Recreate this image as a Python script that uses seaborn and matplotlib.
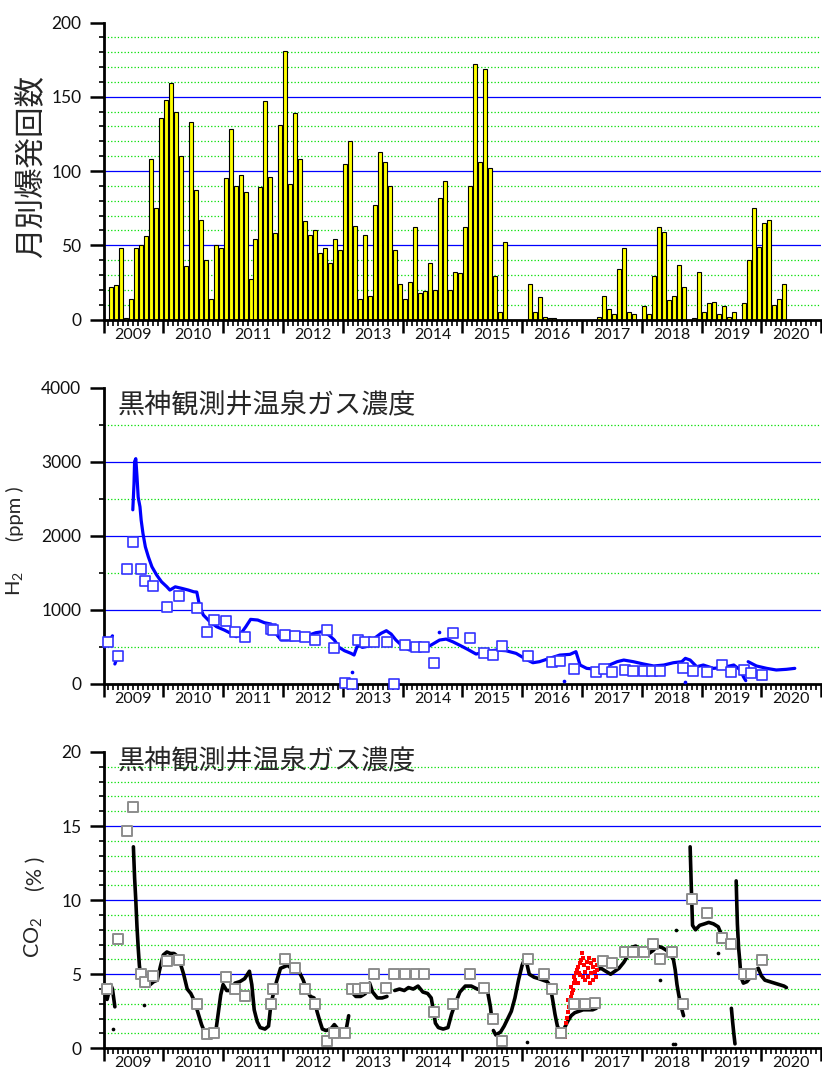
import numpy as np
import pandas as pd
import matplotlib
matplotlib.use("Agg")
import matplotlib.pyplot as plt
from matplotlib.ticker import FixedLocator, FuncFormatter, MultipleLocator, NullFormatter
import seaborn as sns

sns.set_style("ticks")
plt.rcParams["font.family"] = ["Lato", "Noto Sans CJK JP", "DejaVu Sans"]
plt.rcParams["mathtext.fontset"] = "custom"
plt.rcParams["mathtext.rm"] = "Lato"
plt.rcParams["mathtext.it"] = "Lato:italic"
plt.rcParams["lines.scale_dashes"] = False

NAN = np.nan
CJK = ["Noto Sans CJK JP", "DejaVu Sans"]

# ---------------------------------------------------------------- data
# monthly explosion counts (Jan ... Dec)
explosions_2009 = [0, 22, 23, 48, 1, 14, 48, 50, 56, 108, 75, 136]
explosions_2010 = [148, 159, 140, 110, 36, 133, 87, 67, 40, 14, 50, 48]
explosions_2011 = [95, 128, 90, 97, 86, 27, 54, 89, 147, 96, 58, 131]
explosions_2012 = [181, 91, 139, 108, 66, 57, 60, 45, 48, 38, 54, 47]
explosions_2013 = [105, 120, 63, 14, 57, 16, 77, 113, 106, 90, 47, 24]
explosions_2014 = [14, 25, 62, 18, 19, 38, 20, 82, 93, 20, 32, 31]
explosions_2015 = [62, 90, 172, 106, 169, 102, 29, 5, 52, 0, 0, 0]
explosions_2016 = [0, 24, 5, 15, 2, 1, 1, 0, 0, 0, 0, 0]
explosions_2017 = [0, 0, 0, 2, 16, 7, 4, 34, 48, 5, 4, 0]
explosions_2018 = [9, 4, 29, 62, 59, 13, 16, 37, 22, 0, 1, 32]
explosions_2019 = [5, 11, 12, 4, 9, 2, 5, 0, 11, 40, 75, 49]
explosions_2020 = [65, 67, 10, 14, 24]

# H2 (ppm), continuous record; NaN separates gaps in the record
h2_time = [2009.02, 2009.08, 2009.15, NAN,
           2009.19, 2009.24, NAN,
           2009.49, 2009.51, 2009.52, 2009.54, 2009.56, 2009.58, 2009.61, 2009.63,
           2009.66, 2009.70, 2009.75, 2009.81, 2009.89, 2009.97, 2010.06, 2010.11,
           2010.20, 2010.31, 2010.42, 2010.51, 2010.56, 2010.61, 2010.67, 2010.78,
           2010.89, 2011.02, 2011.13, 2011.22, 2011.30, 2011.38, 2011.46, 2011.58,
           2011.69, 2011.80, 2011.88, 2011.97, 2012.08, 2012.22, 2012.39, 2012.55,
           2012.66, 2012.77, 2012.86, 2012.94, 2013.03, 2013.14, 2013.19, 2013.25,
           2013.33, 2013.44, 2013.53, 2013.64, 2013.73, 2013.81, 2013.89, 2014.01,
           2014.12, 2014.23, 2014.34, 2014.45, 2014.62, 2014.73, 2014.84, 2014.95,
           2015.09, 2015.23, 2015.40, 2015.57, 2015.73, 2015.90, 2016.07, 2016.18,
           2016.29, 2016.46, 2016.63, 2016.80, 2016.90, 2016.97, 2017.08, 2017.25,
           2017.42, 2017.59, 2017.70, 2017.86, 2018.03, 2018.20, 2018.37, 2018.53,
           2018.67, 2018.73, 2018.81, 2018.92, 2019.03, 2019.20, 2019.37, 2019.54,
           2019.65, 2019.70, 2019.74, NAN,
           2019.78, 2019.92, 2020.09, 2020.25, 2020.42, 2020.56]
h2_ppm = [500, 560, 650, NAN,
          270, 380, NAN,
          2350, 2700, 3000, 3040, 2800, 2520, 2390, 2210,
          2030, 1850, 1716, 1581, 1469, 1379, 1311, 1267,
          1311, 1290, 1267, 1244, 1240, 1042, 930, 840,
          773, 728, 683, 638, 683, 773, 872, 863,
          827, 809, 683, 593, 593, 600, 647, 692,
          705, 660, 593, 494, 449, 413, 391, 526,
          494, 512, 616, 683, 719, 674, 593, 503,
          458, 481, 481, 512, 593, 606, 570, 526,
          467, 404, 436, 458, 449, 413, 332, 287,
          301, 346, 390, 400, 436, 256, 211, 198,
          243, 301, 323, 301, 270, 243, 256, 287,
          301, 346, 323, 233, 256, 211, 225, 256,
          189, 99, 45, NAN,
          301, 243, 211, 189, 198, 211]
h2_stray_time = [2013.15, 2014.61, 2016.70, 2018.72]
h2_stray_ppm = [157, 700, 40, 31]

# H2 (ppm), periodic sampling
h2_sample_time = [2009.07, 2009.25, 2009.40, 2009.50, 2009.63, 2009.69, 2009.83,
                  2010.06, 2010.26, 2010.56, 2010.73, 2010.85,
                  2011.05, 2011.20, 2011.37, 2011.80, 2011.84,
                  2012.04, 2012.20, 2012.37, 2012.53, 2012.73, 2012.85,
                  2013.04, 2013.16, 2013.26, 2013.37, 2013.53, 2013.74, 2013.86,
                  2014.05, 2014.22, 2014.36, 2014.53, 2014.85,
                  2015.13, 2015.37, 2015.51, 2015.66,
                  2016.10, 2016.50, 2016.63, 2016.86,
                  2017.23, 2017.37, 2017.51, 2017.72, 2017.86,
                  2018.04, 2018.18, 2018.31, 2018.69, 2018.85,
                  2019.09, 2019.34, 2019.50, 2019.71, 2019.83,
                  2020.01]
h2_sample_ppm = [570, 380, 1546, 1915, 1551, 1393, 1326,
                 1034, 1182, 1025, 701, 858,
                 849, 701, 638, 737, 733,
                 656, 645, 629, 593, 728, 492,
                 15, 0, 593, 561, 562, 561, 5,
                 526, 499, 494, 287, 683,
                 616, 413, 395, 512,
                 373, 301, 314, 198,
                 166, 198, 166, 189, 180,
                 180, 175, 171, 216, 171,
                 162, 252, 166, 189, 144,
                 117]

# CO2 (%), continuous record; NaN separates gaps in the record
co2_time = [2009.00, 2009.03, 2009.06, 2009.09, 2009.12, 2009.15, 2009.17, 2009.19, NAN,
            2009.50, 2009.52, 2009.54, 2009.56, 2009.58, 2009.60, 2009.62, 2009.66,
            2009.72, 2009.78, 2009.84, 2009.90, 2009.95, 2010.00, 2010.06, 2010.12,
            2010.18, 2010.24, 2010.28, 2010.34, 2010.40, 2010.46, 2010.52, 2010.58,
            2010.64, 2010.68, 2010.78, 2010.88, 2010.92, 2010.96, 2011.00, 2011.06,
            2011.14, 2011.20, 2011.28, 2011.36, 2011.44, 2011.48, 2011.52, 2011.57,
            2011.62, 2011.70, 2011.76, 2011.80, 2011.86, 2011.90, 2011.96, 2012.02,
            2012.08, 2012.14, 2012.20, 2012.28, 2012.34, 2012.40, 2012.46, 2012.52,
            2012.57, 2012.62, 2012.66, 2012.72, 2012.80, 2012.86, 2012.92, 2013.00,
            2013.06, 2013.10, NAN,
            2013.15, 2013.22, 2013.30, 2013.38, 2013.45, 2013.50, 2013.58, 2013.66,
            2013.74, NAN,
            2013.87, 2013.95, 2014.03, 2014.10, 2014.18, 2014.26, 2014.34, 2014.42,
            2014.48, 2014.52, 2014.55, 2014.60, 2014.68, 2014.76, 2014.82, 2014.88,
            2014.96, 2015.05, 2015.15, 2015.25, 2015.35, 2015.42, 2015.47, 2015.49, NAN,
            2015.52, 2015.56, 2015.60, 2015.64, 2015.70, 2015.76, 2015.82, 2015.88,
            2015.94, 2016.00, 2016.04, 2016.08, 2016.12, 2016.20, 2016.28, 2016.35,
            2016.42, 2016.47, 2016.51, 2016.55, 2016.59, 2016.64, 2016.70, 2016.76,
            2016.82, 2016.88, 2016.95, 2017.02, 2017.10, 2017.18, 2017.24, NAN,
            2017.26, 2017.32, 2017.40, 2017.48, 2017.55, 2017.62, 2017.70, 2017.76,
            2017.82, 2017.90, 2017.97, 2018.05, 2018.12, 2018.19, 2018.26, 2018.34,
            2018.42, 2018.48, 2018.53, 2018.56, 2018.59, 2018.62, 2018.66, 2018.70, NAN,
            2018.81, 2018.82, 2018.83, 2018.84, 2018.85, 2018.90, 2018.97, 2019.05,
            2019.12, 2019.20, 2019.28, 2019.34, 2019.42, 2019.48, NAN,
            2019.50, 2019.52, 2019.54, 2019.56, NAN,
            2019.58, 2019.59, 2019.60, 2019.62, 2019.64, 2019.66, 2019.70, 2019.76,
            2019.82, 2019.88, 2019.95, 2020.00, 2020.06, 2020.14, 2020.22, 2020.30,
            2020.38, 2020.42]
co2_pct = [3.4, 3.6, 3.3, 3.8, 4.3, 4.0, 3.4, 2.8, NAN,
           13.6, 11.5, 10.0, 8.2, 6.8, 5.6, 4.9, 4.2,
           4.2, 4.3, 4.5, 4.6, 5.5, 6.3, 6.5, 6.4,
           6.4, 6.2, 5.8, 5.0, 4.0, 3.7, 3.2, 2.4,
           1.6, 1.2, 1.1, 1.2, 2.4, 3.6, 4.3, 3.9,
           3.9, 4.4, 4.5, 4.7, 5.2, 4.3, 2.6, 1.8,
           1.4, 1.3, 1.5, 3.0, 4.0, 4.6, 5.4, 5.5,
           5.6, 5.4, 5.2, 5.1, 4.6, 3.9, 3.5, 3.4,
           2.5, 1.8, 1.3, 1.2, 1.3, 1.6, 1.3, 1.2,
           1.3, 2.2, NAN,
           3.8, 3.5, 3.5, 3.7, 4.4, 3.8, 3.4, 3.4,
           3.5, NAN,
           3.9, 4.0, 3.9, 4.1, 4.0, 4.2, 3.8, 3.7,
           3.4, 2.5, 1.7, 1.4, 1.3, 1.4, 2.3, 3.0,
           3.8, 4.2, 4.2, 4.0, 3.9, 3.9, 2.8, 2.1, NAN,
           1.2, 0.9, 1.0, 1.1, 1.5, 2.0, 2.5, 3.4,
           4.6, 5.6, 6.0, 5.7, 5.0, 4.8, 4.7, 4.6,
           4.5, 4.2, 3.3, 2.3, 1.5, 1.1, 1.3, 1.8,
           2.2, 2.4, 2.5, 2.6, 2.6, 2.6, 2.7, NAN,
           5.3, 5.4, 5.2, 5.0, 5.2, 5.4, 5.8, 6.2,
           6.8, 6.9, 6.7, 6.5, 6.4, 6.6, 6.9, 6.8,
           6.6, 6.3, 6.0, 5.3, 4.3, 3.6, 2.8, 2.2, NAN,
           13.6, 12.2, 10.8, 9.6, 8.3, 8.0, 8.3, 8.4,
           8.5, 8.4, 8.2, 7.6, 7.3, 7.2, NAN,
           2.7, 1.8, 1.0, 0.3, NAN,
           11.3, 9.8, 8.4, 6.8, 5.9, 4.8, 4.4, 4.5,
           4.8, 5.2, 5.4, 4.9, 4.6, 4.5, 4.4, 4.3,
           4.2, 4.1]
co2_stray_time = [2009.16, 2009.68, 2016.08, 2018.31, 2018.53, 2018.55, 2018.57, 2019.27]
co2_stray_pct = [1.3, 2.9, 0.45, 4.6, 0.3, 0.3, 8.0, 6.4]

# CO2 (%), second sensor record (late 2016 - early 2017)
co2_red_time = [2016.71, 2016.72, 2016.73, 2016.75, 2016.76, 2016.78, 2016.80, 2016.77,
                2016.82, 2016.83, 2016.85, 2016.81, 2016.87, 2016.88, 2016.86, 2016.90,
                2016.92, 2016.94, 2016.95, 2016.97, 2016.98, 2017.00, 2017.02, 2017.04,
                2017.05, 2017.08, 2017.10, 2017.11, 2017.12, 2017.15, 2017.16, 2017.18,
                2017.19, 2017.21, 2017.22, 2017.24, 2017.25, 2017.26, 2017.02, 2017.06,
                2017.14, 2016.94, 2016.97]
co2_red_pct = [0.74, 1.23, 1.68, 2.02, 2.47, 2.81, 3.03, 3.26,
               3.48, 3.71, 3.93, 4.16, 4.38, 4.61, 4.83, 5.06,
               5.28, 5.50, 5.06, 5.73, 5.95, 6.40, 6.07, 5.62,
               5.17, 5.84, 4.83, 5.39, 6.07, 5.73, 5.06, 4.61,
               5.50, 5.95, 5.17, 4.83, 5.62, 5.28, 4.83, 4.61,
               4.38, 4.38, 4.94]

# CO2 (%), periodic sampling
co2_sample_time = [2009.06, 2009.25, 2009.40, 2009.50, 2009.63, 2009.70, 2009.83,
                   2010.06, 2010.26, 2010.56, 2010.73, 2010.85,
                   2011.05, 2011.20, 2011.37, 2011.80, 2011.84,
                   2012.04, 2012.20, 2012.37, 2012.54, 2012.73, 2012.85,
                   2013.04, 2013.16, 2013.26, 2013.37, 2013.53, 2013.72, 2013.86,
                   2014.05, 2014.22, 2014.36, 2014.53, 2014.85,
                   2015.13, 2015.37, 2015.51, 2015.67,
                   2016.10, 2016.37, 2016.50, 2016.65, 2016.86,
                   2017.05, 2017.22, 2017.36, 2017.51, 2017.72, 2017.86,
                   2018.04, 2018.19, 2018.31, 2018.50, 2018.69, 2018.84,
                   2019.09, 2019.35, 2019.50, 2019.71, 2019.83,
                   2020.01]
co2_sample_pct = [4.0, 7.37, 14.65, 16.27, 4.99, 4.45, 4.90,
                  5.91, 5.96, 2.97, 0.99, 1.01,
                  4.81, 4.0, 3.51, 3.01, 4.0,
                  6.0, 5.39, 4.0, 2.99, 0.49, 1.01,
                  1.01, 3.98, 3.98, 4.09, 4.99, 4.07, 4.99,
                  4.99, 4.99, 4.99, 2.45, 2.99,
                  4.99, 4.04, 2.0, 0.49,
                  6.02, 4.99, 4.0, 1.01, 2.99,
                  2.99, 3.06, 5.91, 5.78, 6.47, 6.47,
                  6.47, 7.03, 6.02, 6.47, 3.01, 10.09,
                  9.15, 7.46, 7.03, 4.99, 5.03,
                  5.98]

year_labels = ["2009", "2010", "2011", "2012", "2013", "2014",
               "2015", "2016", "2017", "2018", "2019", "2020"]
title_text = "黒神観測井温泉ガス濃度"

# ---------------------------------------------------------------- helpers
counts = (explosions_2009 + explosions_2010 + explosions_2011 + explosions_2012 +
          explosions_2013 + explosions_2014 + explosions_2015 + explosions_2016 +
          explosions_2017 + explosions_2018 + explosions_2019 + explosions_2020)
n_months = len(counts)
month_edges = [2009 + m / 12.0 for m in range(n_months + 1)]
monthly = pd.DataFrame({"month": [2009 + (m + 0.5) / 12.0 for m in range(n_months)],
                        "count": np.asarray(counts, float)})


def segments(t, v):
    t = np.asarray(t, float)
    v = np.asarray(v, float)
    seg = np.cumsum(np.isnan(t))
    df = pd.DataFrame({"t": t, "v": v, "seg": seg})
    return df.dropna()


first_year = int(year_labels[0])
year_ticks = np.arange(first_year, first_year + len(year_labels) + 1)
month_ticks = [first_year + m / 12.0 for m in range(12 * len(year_labels) + 1) if m % 12]


def year_label(v, pos):
    frac = v - np.floor(v)
    if abs(frac - 0.5) < 1e-3:
        i = int(np.floor(v)) - first_year
        if 0 <= i < len(year_labels):
            return year_labels[i]
    return ""


W, H = 822, 1075
fig = plt.figure(figsize=(W / 100, H / 100), dpi=100)


def frame(top, bottom):
    return [103.5 / W, 1 - bottom / H, 717.6 / W, (bottom - top) / H]


def style_axis(ax, ymax, major, minor):
    ax.set_xlim(year_ticks[0], year_ticks[-1])
    ax.set_ylim(0, ymax)
    for s in ("top", "right"):
        ax.spines[s].set_visible(False)
    for s in ("left", "bottom"):
        ax.spines[s].set_linewidth(2.0)
        ax.spines[s].set_color("black")
    ax.xaxis.set_major_locator(FixedLocator(year_ticks))
    ax.xaxis.set_minor_locator(FixedLocator(month_ticks))
    ax.xaxis.set_major_formatter(NullFormatter())
    ax.xaxis.set_minor_formatter(FuncFormatter(year_label))
    ax.yaxis.set_major_locator(MultipleLocator(major))
    ax.yaxis.set_minor_locator(MultipleLocator(minor))
    ax.tick_params(axis="x", which="major", length=9.5, width=1.8, direction="out", color="black")
    ax.tick_params(axis="x", which="minor", length=4.3, width=1.2, direction="out", color="black",
                   labelsize=11.5, pad=1.5, labelcolor="#111111")
    ax.tick_params(axis="y", which="major", length=10, width=1.8, direction="out", color="black",
                   labelsize=12.5, pad=6, labelcolor="#111111")
    ax.tick_params(axis="y", which="minor", length=3.5, width=1.2, direction="out", color="black")
    ax.set_xlabel("")
    ax.set_ylabel("")
    n = int(round(ymax / minor))
    for k in range(1, n):
        v = k * minor
        if k % int(round(major / minor)) == 0:
            ax.axhline(v, color="#0000ff", lw=0.9, zorder=0.5)
        else:
            ax.axhline(v, color="#00e000", lw=0.9, ls=(0, (0.9, 1.5)), zorder=0.5)


# ---------------------------------------------------------------- top: monthly explosions
ax1 = fig.add_axes(frame(22.5, 319.5))
sns.histplot(data=monthly, x="month", weights="count", bins=month_edges, shrink=0.8,
             color="#ffff00", edgecolor="black", linewidth=0.8, alpha=1.0, ax=ax1)
style_axis(ax1, 200, 50, 10)
fig.text(31 / W, 1 - 167 / H, "月別爆発回数", rotation=90, fontsize=22,
         family=CJK, ha="center", va="center")

# ---------------------------------------------------------------- middle: H2
ax2 = fig.add_axes(frame(387.5, 684))
h2 = segments(h2_time, h2_ppm)
sns.lineplot(data=h2, x="t", y="v", units="seg", estimator=None, sort=False,
             color="#0000ff", lw=2.3, ax=ax2, legend=False, zorder=3)
sns.scatterplot(x=h2_stray_time, y=h2_stray_ppm, color="#0000ff", s=7, linewidth=0,
                ax=ax2, zorder=3)
sns.scatterplot(x=h2_sample_time, y=h2_sample_ppm, marker="s", s=62, color="white",
                edgecolor="#3333ff", linewidth=1.2, ax=ax2, zorder=5, clip_on=False)
style_axis(ax2, 4000, 1000, 500)
fig.text(118 / W, 1 - 405 / H, title_text, fontsize=19.5, family=CJK, ha="left", va="center")
fig.text(20 / W, 1 - 584 / H, "H$_2$", rotation=90, rotation_mode="anchor",
         ha="center", va="baseline", fontsize=14.5)
fig.text(21 / W, 1 - 514 / H, "(ppm )", rotation=90, rotation_mode="anchor",
         ha="center", va="baseline", fontsize=14.5)

# ---------------------------------------------------------------- bottom: CO2
ax3 = fig.add_axes(frame(752, 1048.3))
co2 = segments(co2_time, co2_pct)
sns.lineplot(data=co2, x="t", y="v", units="seg", estimator=None, sort=False,
             color="black", lw=2.6, ax=ax3, legend=False, zorder=3)
sns.scatterplot(x=co2_stray_time, y=co2_stray_pct, color="black", s=7, linewidth=0,
                ax=ax3, zorder=3)
sns.scatterplot(x=co2_red_time, y=co2_red_pct, color="#ff0000", s=12, linewidth=0,
                marker="s", ax=ax3, zorder=4)
sns.scatterplot(x=co2_sample_time, y=co2_sample_pct, marker="s", s=62, color="white",
                edgecolor="#8c8c8c", linewidth=1.4, ax=ax3, zorder=5, clip_on=False)
style_axis(ax3, 20, 5, 1)
fig.text(118 / W, 1 - 761 / H, title_text, fontsize=19.5, family=CJK, ha="left", va="center")
fig.text(40 / W, 1 - 937 / H, "CO$_2$", rotation=90, rotation_mode="anchor",
         ha="center", va="baseline", fontsize=15.5)
fig.text(42 / W, 1 - 874 / H, "(% )", rotation=90, rotation_mode="anchor",
         ha="center", va="baseline", fontsize=15.5)

fig.savefig("out.png", dpi=100)
